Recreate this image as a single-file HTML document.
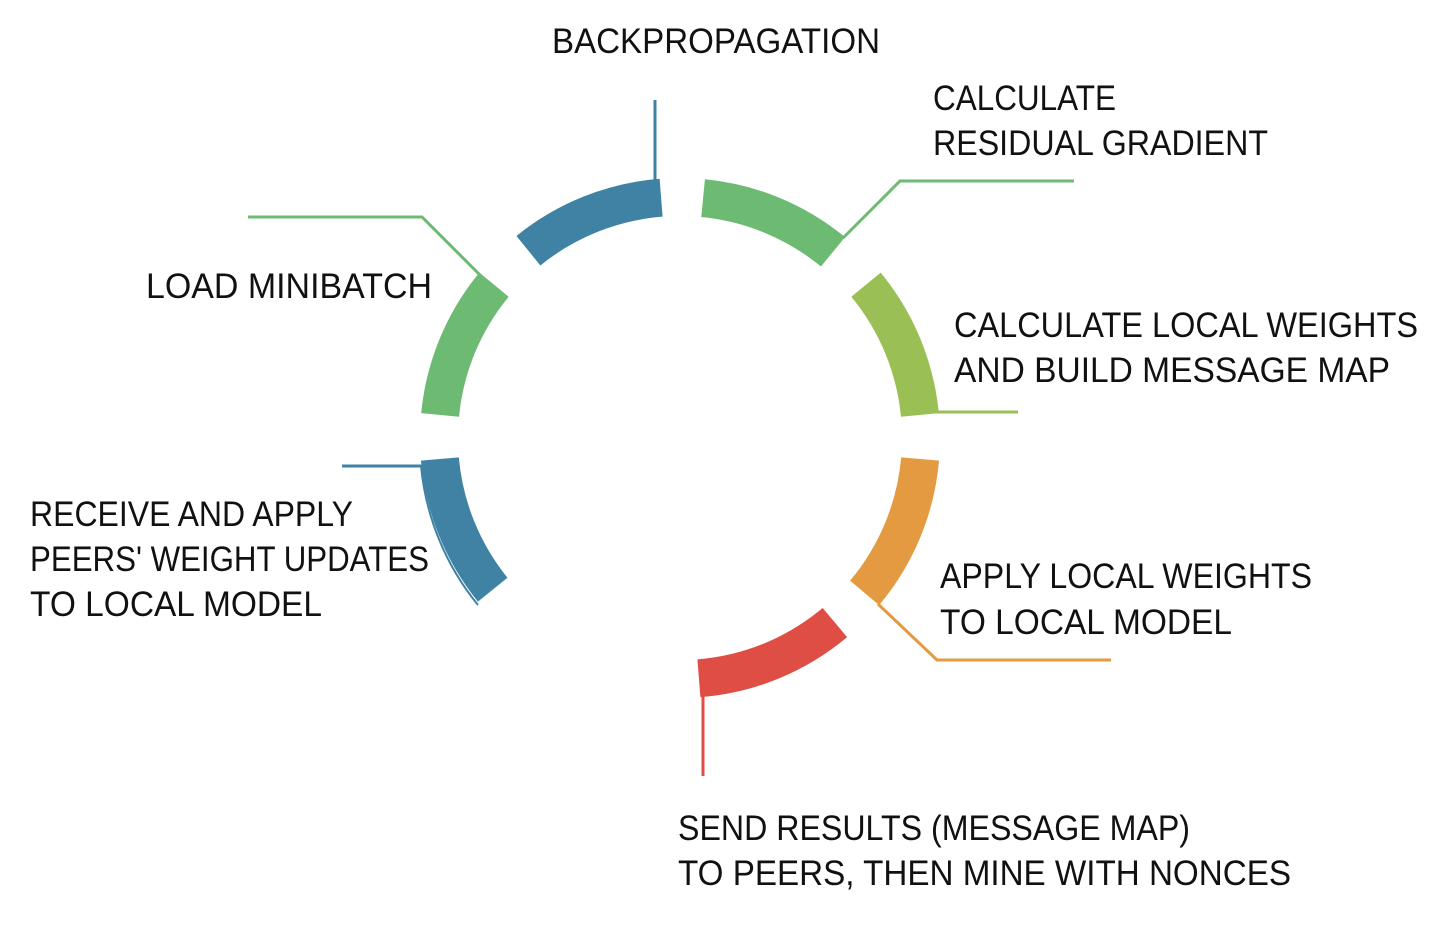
<!DOCTYPE html>
<html><head><meta charset="utf-8"><style>
html,body{margin:0;padding:0;background:#fff;}
svg{display:block;}
text{font-family:"Liberation Sans",sans-serif;font-size:35px;fill:#111;}
</style></head><body>
<svg width="1450" height="936" viewBox="0 0 1450 936" xmlns="http://www.w3.org/2000/svg">
<g fill="none" stroke-width="38" stroke-linecap="butt">
<path d="M528.4 250.7 A241 241 0 0 1 661.1 197.7" stroke="#3f82a4"/>
<path d="M703.1 198.1 A241 241 0 0 1 833.0 251.8" stroke="#6dbb73"/>
<path d="M866.0 284.7 A241 241 0 0 1 919.9 414.9" stroke="#9abf55"/>
<path d="M920.1 459.0 A241 241 0 0 1 864.6 592.9" stroke="#e49a40"/>
<path d="M834.9 622.6 A241 241 0 0 1 698.9 678.3" stroke="#df4e45"/>
<path d="M492.7 589.7 A241 241 0 0 1 439.9 459.0" stroke="#3f82a4"/>
<path d="M440.1 414.9 A241 241 0 0 1 494.0 284.7" stroke="#6dbb73"/>
</g>
<g fill="none" stroke-width="3">
<polyline points="655,100 655,185" stroke="#3f82a4"/>
<polyline points="843,238 900,181 1074,181" stroke="#6dbb73"/>
<polyline points="935,412 1018,412" stroke="#9abf55"/>
<polyline points="878,604 937,660 1111,660" stroke="#e49a40"/>
<polyline points="703,690 703,776" stroke="#df4e45"/>
<polyline points="342,466 422,466" stroke="#3f82a4"/>
<path d="M478 605 A259 259 0 0 1 421 466" stroke="#3f82a4" stroke-width="2"/>
<polyline points="248,217 422,217 482,277" stroke="#6dbb73"/>
</g>
<text x="552" y="53" textLength="328" lengthAdjust="spacingAndGlyphs">BACKPROPAGATION</text>
<text x="933" y="110" textLength="183" lengthAdjust="spacingAndGlyphs">CALCULATE</text>
<text x="933" y="155" textLength="335" lengthAdjust="spacingAndGlyphs">RESIDUAL GRADIENT</text>
<text x="146" y="298" textLength="286" lengthAdjust="spacingAndGlyphs">LOAD MINIBATCH</text>
<text x="954" y="337" textLength="464" lengthAdjust="spacingAndGlyphs">CALCULATE LOCAL WEIGHTS</text>
<text x="954" y="382" textLength="436" lengthAdjust="spacingAndGlyphs">AND BUILD MESSAGE MAP</text>
<text x="30" y="526" textLength="323" lengthAdjust="spacingAndGlyphs">RECEIVE AND APPLY</text>
<text x="30" y="571" textLength="399" lengthAdjust="spacingAndGlyphs">PEERS' WEIGHT UPDATES</text>
<text x="30" y="616" textLength="292" lengthAdjust="spacingAndGlyphs">TO LOCAL MODEL</text>
<text x="940" y="588" textLength="372" lengthAdjust="spacingAndGlyphs">APPLY LOCAL WEIGHTS</text>
<text x="940" y="634" textLength="292" lengthAdjust="spacingAndGlyphs">TO LOCAL MODEL</text>
<text x="678" y="840" textLength="512" lengthAdjust="spacingAndGlyphs">SEND RESULTS (MESSAGE MAP)</text>
<text x="678" y="885" textLength="613" lengthAdjust="spacingAndGlyphs">TO PEERS, THEN MINE WITH NONCES</text>
</svg>
</body></html>
